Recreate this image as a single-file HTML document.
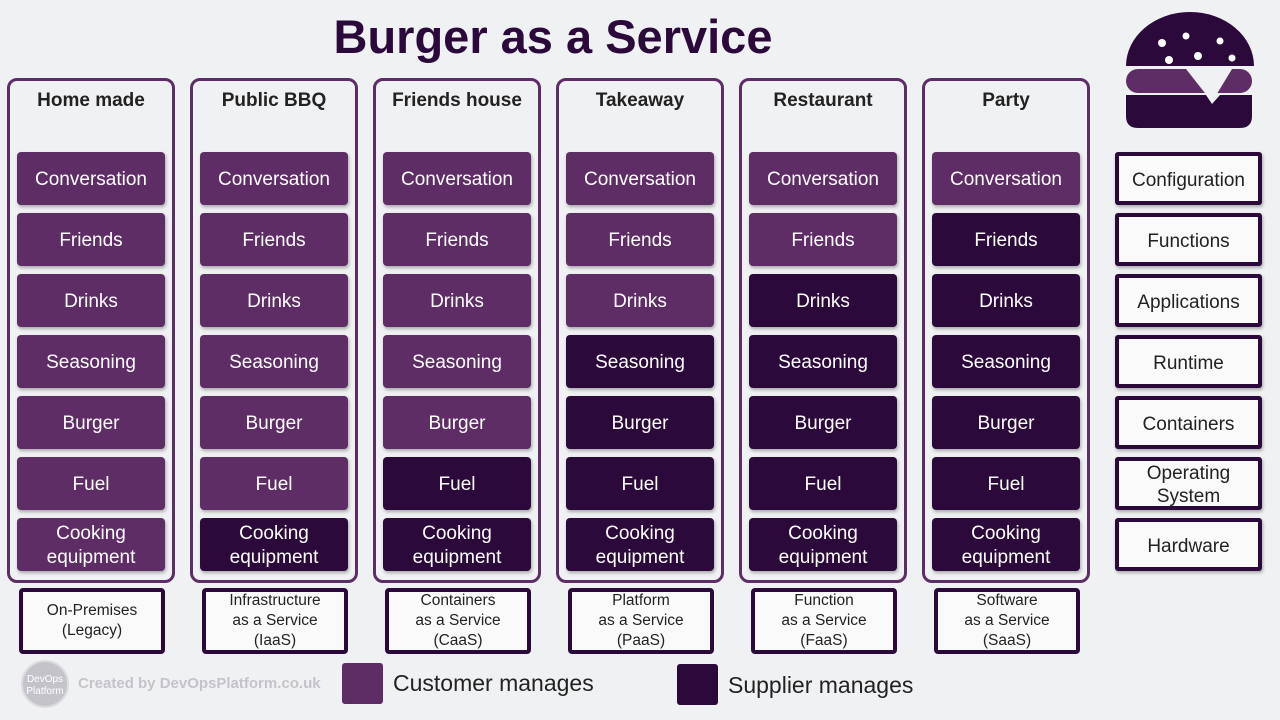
<!DOCTYPE html>
<html><head><meta charset="utf-8"><style>
body{margin:0;width:1280px;height:720px;background:#f0f1f3;font-family:"Liberation Sans","DejaVu Sans",sans-serif;position:relative;overflow:hidden}
.a{position:absolute;box-sizing:border-box}
.col{border:3px solid #5c2d66;border-radius:10px;width:168px;top:78px;height:505px;background:#f0f1f3}
.h{font-weight:bold;font-size:19px;color:#222;text-align:center;width:168px;top:90px}
.t{width:148px;height:53px;border-radius:4px;color:#fff;font-size:19px;display:flex;align-items:center;justify-content:center;text-align:center;line-height:24px;padding-top:3px;box-shadow:1px 2px 3px rgba(0,0,0,.3)}
.l{background:#5e2d66}.d{background:#2b0a3b}
.r{width:147px;height:53px;border:4px solid #2b0a3b;border-radius:3px;background:#fafafb;color:#222;font-size:19px;display:flex;align-items:center;justify-content:center;text-align:center;line-height:23px;padding-top:3px;box-shadow:1px 2px 3px rgba(0,0,0,.3)}
.b{width:146px;height:66px;border:4px solid #2b0a3b;border-radius:4px;background:#fafafb;color:#222;font-size:15.5px;display:flex;align-items:center;justify-content:center;text-align:center;line-height:20px;top:588px}
</style></head><body>
<div class="a" style="left:300px;top:9px;width:506px;text-align:center;font-size:47px;font-weight:bold;color:#2b0a3b">Burger as a Service</div>
<svg class="a" style="left:1120px;top:8px" width="140" height="122" viewBox="0 0 140 122">
<path d="M6 58 A64 54 0 0 1 134 58 Z" fill="#2b0a3b"/>
<g fill="#fff"><circle cx="42" cy="35" r="4"/><circle cx="66" cy="28" r="3.5"/><circle cx="100" cy="33" r="3.5"/><circle cx="49" cy="52" r="4"/><circle cx="78" cy="48" r="4"/><circle cx="112" cy="50" r="3.5"/></g>
<rect x="6" y="61" width="126" height="24" rx="12" fill="#5e2d66"/>
<path d="M66 61 L112 61 L92 94 Z" fill="#f0f1f3"/>
<path d="M6 87 L86 87 L92 96 L100 87 L132 87 L132 108 Q132 120 120 120 L18 120 Q6 120 6 108 Z" fill="#2b0a3b"/>
</svg>
<div id="m"></div>
<script>
var names=["Home made","Public BBQ","Friends house","Takeaway","Restaurant","Party"];
var dark=[0,1,2,4,5,6];
var rows=["Conversation","Friends","Drinks","Seasoning","Burger","Fuel","Cooking<br>equipment"];
var bots=["On-Premises<br>(Legacy)","Infrastructure<br>as a Service<br>(IaaS)","Containers<br>as a Service<br>(CaaS)","Platform<br>as a Service<br>(PaaS)","Function<br>as a Service<br>(FaaS)","Software<br>as a Service<br>(SaaS)"];
var h="";
for(var c=0;c<6;c++){var x=7+c*183;
h+='<div class="a col" style="left:'+x+'px"></div><div class="a h" style="left:'+x+'px">'+names[c]+'</div>';
for(var r=0;r<7;r++){var cl=(r>=7-dark[c])?"d":"l";h+='<div class="a t '+cl+'" style="left:'+(x+10)+'px;top:'+(152+r*61)+'px">'+rows[r]+'</div>';}
h+='<div class="a b" style="left:'+(x+12)+'px">'+bots[c]+'</div>';}
var rr=["Configuration","Functions","Applications","Runtime","Containers","Operating<br>System","Hardware"];
for(var r=0;r<7;r++)h+='<div class="a r" style="left:1115px;top:'+(152+r*61)+'px">'+rr[r]+'</div>';
document.getElementById("m").innerHTML=h;
</script>
<div class="a" style="left:21px;top:660px;width:48px;height:48px;border-radius:50%;background:#c5c3ca;border:2px solid #dcdbe0;color:#fff;font-size:10px;text-align:center;line-height:12px;padding-top:12px">DevOps<br>Platform</div>
<div class="a" style="left:78px;top:675px;font-size:15px;font-weight:bold;color:#c5c3ca">Created by DevOpsPlatform.co.uk</div>
<div class="a" style="left:342px;top:663px;width:41px;height:41px;background:#5e2d66;border-radius:3px"></div>
<div class="a" style="left:393px;top:670px;font-size:23px;color:#222">Customer manages</div>
<div class="a" style="left:677px;top:664px;width:41px;height:41px;background:#2b0a3b;border-radius:3px"></div>
<div class="a" style="left:728px;top:672px;font-size:23px;color:#222">Supplier manages</div>
</body></html>
